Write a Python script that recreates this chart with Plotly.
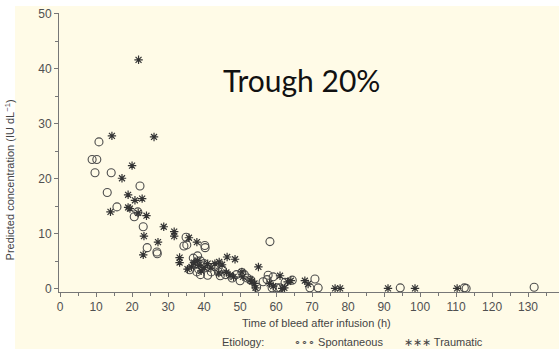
import plotly.graph_objects as go

# Spontaneous bleeds: time after infusion (h) and predicted concentration (IU/dL)
spont_time = [8.9, 10.2, 10.8, 9.7, 14.2, 13.1, 15.8, 22.2, 20.6, 21.6, 23.1, 24.2,
              26.9, 27.0, 35.0, 34.4, 35.2, 40.3, 40.2, 37.0, 37.6, 38.2, 38.5, 39.0,
              39.5, 38.0, 40.0, 39.0, 41.0, 42.0, 43.0, 44.0, 44.5, 45.0, 46.0, 47.8,
              49.0, 50.0, 50.5, 51.2, 52.0, 53.0, 36.0, 54.6, 56.4, 57.5, 57.8, 58.3,
              59.2, 58.9, 60.3, 61.1, 62.5, 64.5, 70.8, 69.4, 71.7, 94.5, 112.3, 112.8,
              131.7]
spont_conc = [23.5, 23.5, 26.7, 21.1, 21.1, 17.5, 14.9, 18.7, 13.1, 14.0, 11.3, 7.5,
              6.7, 6.4, 9.4, 7.8, 8.0, 7.5, 7.9, 5.6, 4.6, 6.0, 3.6, 5.1,
              4.2, 3.1, 4.6, 2.6, 2.5, 3.1, 4.1, 3.1, 2.4, 3.6, 2.6, 2.0,
              2.6, 1.5, 3.0, 2.6, 2.0, 1.6, 3.5, 0.3, 1.3, 1.7, 2.5, 8.6,
              2.2, 0.2, 0.2, 0.2, 1.2, 1.6, 1.8, 0.2, 0.2, 0.2, 0.2, 0.1,
              0.3]

# Traumatic bleeds
traum_time = [21.8, 14.4, 26.1, 20.0, 17.2, 18.9, 20.8, 22.8, 18.9, 19.4, 14.0, 21.7,
              24.0, 23.3, 23.1, 27.2, 28.8, 31.7, 31.7, 33.2, 33.2, 35.8, 38.0, 35.4,
              36.5, 37.2, 38.2, 38.6, 39.2, 40.0, 41.9, 41.0, 43.0, 44.2, 45.0, 44.1,
              46.4, 48.6, 46.2, 47.2, 48.2, 50.5, 50.8, 52.8, 53.3, 54.0, 54.3, 55.1,
              58.2, 59.2, 61.1, 61.7, 62.3, 63.2, 64.1, 68.0, 68.9, 76.4, 77.8, 91.1,
              98.6, 110.3]
traum_conc = [41.6, 27.8, 27.6, 22.4, 20.1, 17.1, 16.1, 16.4, 14.8, 14.6, 14.0, 13.8,
              13.3, 9.6, 6.2, 8.5, 11.3, 10.4, 9.6, 5.7, 4.8, 9.3, 8.5, 3.6,
              4.0, 4.8, 5.2, 4.3, 3.3, 3.9, 3.8, 4.6, 4.6, 4.9, 4.4, 2.9,
              5.8, 5.4, 3.0, 2.5, 2.2, 3.1, 2.2, 1.6, 1.4, 1.0, 0.2, 4.0,
              1.0, 0.5, 2.4, 0.1, 0.2, 1.3, 1.5, 1.5, 0.9, 0.1, 0.1, 0.1,
              0.1, 0.1]

x_ticks = list(range(0, 141, 10))
y_ticks = list(range(0, 51, 10))

BG = "#FFFBE7"
INK = "#505050"

fig = go.Figure()
fig.add_trace(go.Scatter(
    x=spont_time, y=spont_conc, mode="markers", name="Spontaneous",
    marker=dict(symbol="circle-open", size=8, color="#4d4d4d", line=dict(width=1.1)),
))
fig.add_trace(go.Scatter(
    x=traum_time, y=traum_conc, mode="markers", name="Traumatic",
    marker=dict(symbol="asterisk-open", size=7, color="#333333", line=dict(width=1.2, color="#333333")),
))

axis_common = dict(
    showgrid=False, zeroline=False, showline=True, linecolor="#777777", linewidth=1,
    ticks="outside", tickcolor="#777777", ticklen=4,
    tickfont=dict(family="Liberation Sans, Arial, sans-serif", size=12, color=INK),
)
fig.update_xaxes(range=[-0.3, 138.6], tickvals=x_ticks,
                 minor=dict(dtick=5, ticks="outside", ticklen=3, tickcolor="#777777"),
                 **axis_common)
fig.update_yaxes(range=[-0.55, 50.1], tickvals=y_ticks,
                 minor=dict(dtick=5, ticks="outside", ticklen=3, tickcolor="#777777"),
                 **axis_common)

small = dict(family="Liberation Sans, Arial, sans-serif", size=11, color="#444444")
annotations = [
    dict(text="Trough 20%", x=0.484, y=0.76, xref="paper", yref="paper", showarrow=False,
         xanchor="center", yanchor="middle",
         font=dict(family="Lato, sans-serif", size=30, color="#111111")),
    dict(text="Predicted concentration (IU dL<sup>\u22121</sup>)", textangle=-90,
         x=-0.098, y=0.40, xref="paper", yref="paper", showarrow=False,
         xanchor="center", yanchor="middle", font=small),
    dict(text="Time of bleed after infusion (h)", x=0.514, y=-0.111, xref="paper", yref="paper",
         xanchor="center", yanchor="middle", showarrow=False, font=small),
    dict(text="Etiology:", x=0.322, y=-0.18, xref="paper", yref="paper", xanchor="left",
         yanchor="middle", showarrow=False, font=small),
    dict(text="\u2218\u2218\u2218 Spontaneous", x=0.466, y=-0.18, xref="paper", yref="paper",
         xanchor="left", yanchor="middle", showarrow=False, font=small),
    dict(text="\u2217\u2217\u2217 Traumatic", x=0.686, y=-0.18, xref="paper", yref="paper",
         xanchor="left", yanchor="middle", showarrow=False, font=small),
]

# white border strips along the left and top edges
shapes = [
    dict(type="rect", xref="paper", yref="paper", x0=-0.12, x1=-0.088, y0=-0.21, y1=1.06,
         fillcolor="white", line=dict(width=0), layer="below"),
    dict(type="rect", xref="paper", yref="paper", x0=-0.12, x1=1.01, y0=1.025, y1=1.06,
         fillcolor="white", line=dict(width=0), layer="below"),
]

fig.update_layout(
    width=559, height=349, margin=dict(l=59, r=0, t=13, b=57),
    paper_bgcolor=BG, plot_bgcolor=BG, showlegend=False,
    annotations=annotations, shapes=shapes,
)

fig.write_html("out.html")
